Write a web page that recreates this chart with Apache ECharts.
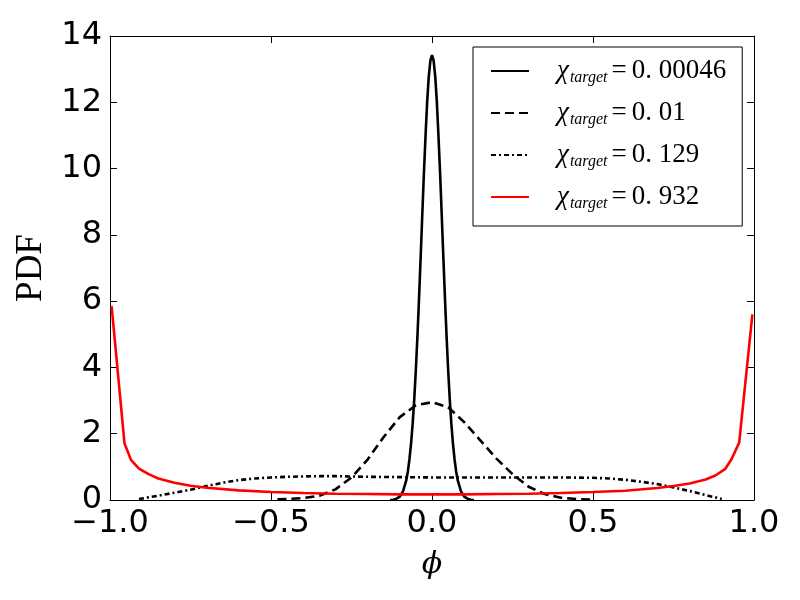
<!DOCTYPE html>
<html>
<head>
<meta charset="utf-8">
<script src="https://cdn.jsdelivr.net/npm/echarts@6/dist/echarts.min.js"></script>
<style>
  html, body { margin: 0; padding: 0; background: #fff; }
  #chart { width: 800px; height: 600px; }
</style>
</head>
<body>
<div id="chart"></div>
<script>
// chi_target values shown in the legend
const targets = ['0.00046', '0.01', '0.129', '0.932'];

// chi = 0.00046 : narrow peak
const xA = [-0.13, -0.12, -0.11, -0.1, -0.09, -0.08, -0.075, -0.07, -0.065, -0.06, -0.055, -0.05, -0.045, -0.04, -0.035,
            -0.03, -0.025, -0.02, -0.015, -0.01, -0.005, 0,
            0.005, 0.01, 0.015, 0.02, 0.025, 0.03, 0.035, 0.04, 0.045, 0.05, 0.055, 0.06, 0.065, 0.07, 0.075, 0.08,
            0.09, 0.1, 0.11, 0.12, 0.13];
const yA = [0.0, 0.01, 0.04, 0.1, 0.26, 0.59, 0.86, 1.23, 1.71, 2.31, 3.06, 3.96, 4.99, 6.15, 7.38,
            8.65, 9.89, 11.0, 12.02, 12.78, 13.26, 13.42,
            13.26, 12.78, 12.02, 11.0, 9.89, 8.65, 7.38, 6.15, 4.99, 3.96, 3.06, 2.31, 1.71, 1.23, 0.86, 0.59,
            0.26, 0.1, 0.04, 0.01, 0.0];

// chi = 0.01 : dashed bell
const xB = [-0.48, -0.45, -0.4, -0.35, -0.3, -0.25, -0.2, -0.15, -0.1, -0.05, 0,
            0.05, 0.1, 0.15, 0.2, 0.25, 0.3, 0.35, 0.4, 0.45, 0.5];
const yB = [0.02, 0.03, 0.06, 0.13, 0.32, 0.68, 1.22, 1.9, 2.5, 2.86, 2.95,
            2.8, 2.35, 1.8, 1.25, 0.78, 0.4, 0.18, 0.07, 0.03, 0.01];

// chi = 0.129 : flat plateau
const xC = [-0.91, -0.85, -0.8, -0.75, -0.7, -0.65, -0.6, -0.55, -0.5, -0.45, -0.4, -0.35, -0.3, -0.25, -0.2, -0.1, 0,
            0.1, 0.2, 0.3, 0.4, 0.5, 0.55, 0.6, 0.65, 0.7, 0.75, 0.8, 0.85, 0.9];
const yC = [0.03, 0.13, 0.22, 0.31, 0.42, 0.52, 0.6, 0.65, 0.68, 0.7, 0.71, 0.72, 0.72, 0.71, 0.7, 0.69, 0.68,
            0.68, 0.68, 0.68, 0.68, 0.67, 0.65, 0.61, 0.55, 0.48, 0.38, 0.27, 0.15, 0.03];

// chi = 0.932 : U shape (red)
const xD = [-0.995, -0.955, -0.935, -0.91, -0.88, -0.85, -0.8, -0.75, -0.7, -0.6, -0.5, -0.4, -0.3, -0.2, -0.1, 0,
            0.1, 0.2, 0.3, 0.4, 0.5, 0.6, 0.7, 0.75, 0.8, 0.85, 0.88, 0.91, 0.93, 0.954, 0.995];
const yD = [5.85, 1.71, 1.21, 0.95, 0.78, 0.65, 0.52, 0.43, 0.37, 0.29, 0.24, 0.21, 0.19, 0.18, 0.17, 0.17,
            0.17, 0.18, 0.19, 0.21, 0.24, 0.28, 0.36, 0.42, 0.5, 0.62, 0.74, 0.93, 1.23, 1.73, 5.6];

const xTicks = { min: -1, max: 1, interval: 0.5 };
const yTicks = { min: 0, max: 14, interval: 2 };

function pairs(xs, ys) {
  return xs.map((x, i) => [x, ys[i]]);
}

const chart = echarts.init(document.getElementById('chart'));

const tickFont = { fontFamily: 'DejaVu Sans', fontSize: 32, color: '#000' };

function sideAxis(pos, range, showLabel) {
  return {
    type: 'value',
    position: pos,
    min: range.min, max: range.max, interval: range.interval,
    axisLine: { show: true, onZero: false, lineStyle: { color: '#000', width: 1 } },
    axisTick: { show: true, inside: true, length: 7, lineStyle: { color: '#000' } },
    splitLine: { show: false },
    axisLabel: showLabel
      ? Object.assign({ margin: 8 }, tickFont, {
          formatter: v => (range === xTicks ? v.toFixed(1).replace('-', '\u2212') : String(v))
        })
      : { show: false }
  };
}

const xBottom = sideAxis('bottom', xTicks, true);
xBottom.name = '\u03d5';
xBottom.nameLocation = 'middle';
xBottom.nameGap = 50;
xBottom.nameTextStyle = { fontFamily: 'DejaVu Serif', fontStyle: 'italic', fontSize: 30, color: '#000' };

const yLeft = sideAxis('left', yTicks, true);
yLeft.name = 'PDF';
yLeft.nameLocation = 'middle';
yLeft.nameGap = 60;
yLeft.nameRotate = 90;
yLeft.nameTextStyle = { fontFamily: 'Liberation Serif', fontSize: 37, color: '#000' };

const styles = [
  { color: '#000', type: 'solid' },
  { color: '#000', type: [9, 5] },
  { color: '#000', type: [5, 3, 2, 3] },
  { color: '#ff0000', type: 'solid' }
];
const dataSets = [pairs(xA, yA), pairs(xB, yB), pairs(xC, yC), pairs(xD, yD)];

chart.setOption({
  animation: false,
  backgroundColor: '#fff',
  grid: { left: 110, right: 46, top: 36, bottom: 100, show: false },
  xAxis: [xBottom, sideAxis('top', xTicks, false)],
  yAxis: [yLeft, sideAxis('right', yTicks, false)],
  legend: {
    orient: 'vertical',
    left: 473,
    top: 47,
    padding: [9, 16, 14, 17],
    itemWidth: 38,
    itemHeight: 14,
    itemGap: 12,
    borderColor: '#000',
    borderWidth: 1,
    borderRadius: 0,
    backgroundColor: '#fff',
    itemStyle: { opacity: 0 },
    data: targets,
    formatter: name => '{chi|\u03c7}{sub|target}{eq|=}{num|' + name.replace('.', '. ') + '}',
    textStyle: {
      color: '#000',
      rich: {
        chi: { fontFamily: 'Liberation Serif', fontStyle: 'italic', fontSize: 27, lineHeight: 30, padding: [0, 1, 0, 23] },
        sub: { fontFamily: 'Liberation Serif', fontStyle: 'italic', fontSize: 16, lineHeight: 30, padding: [14, 0, 0, 0] },
        eq: { fontFamily: 'Liberation Serif', fontSize: 27, lineHeight: 30, padding: [0, 5, 0, 4] },
        num: { fontFamily: 'Liberation Serif', fontSize: 27, lineHeight: 30 }
      }
    }
  },
  series: targets.map((t, i) => ({
    name: t,
    type: 'line',
    data: dataSets[i],
    symbol: 'none',
    showSymbol: false,
    clip: true,
    lineStyle: { color: styles[i].color, width: 2.6, type: styles[i].type },
    itemStyle: { color: styles[i].color }
  }))
});
</script>
</body>
</html>
